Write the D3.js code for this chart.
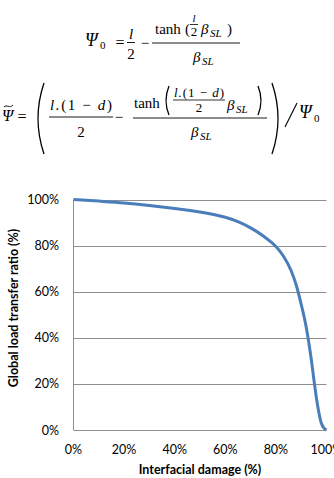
<!DOCTYPE html>
<html lang="en">
	<head>
		<meta charset="UTF-8" />
		<title>Global load transfer ratio</title>
		<style>
			body { margin: 0; background: #fff; }
			svg text { fill: #000; }
			.math { font-family: 'Liberation Serif', serif; font-style: italic; }
			.rm { font-family: 'Liberation Serif', serif; font-style: normal; }
			.lbl { font-family: Lato, 'Open Sans', sans-serif; }
		</style>
	</head>
	<body>
		<div id="chart"></div>
		<script src="https://cdnjs.cloudflare.com/ajax/libs/d3/7.8.5/d3.min.js"></script>
		<script>
			// interfacial damage (%) and load transfer ratio (%)
			var damage = [0, 10, 20, 30, 40, 50, 60, 65, 70, 75, 78, 80, 83, 86, 88, 90, 92, 94, 95, 96, 97, 98, 99, 100];
			var ratio = [100, 99.3, 98.5, 97.4, 96.1, 94.6, 92.3, 90.4, 87.7, 84.2, 81.6, 79.6, 75.4, 69.2, 63, 54.5, 44.5, 30.5, 22, 14, 7.5, 2.8, 0.8, 0];
			var xTicks = [0, 20, 40, 60, 80, 100];
			var yTicks = [0, 20, 40, 60, 80, 100];

			var width = 334;
			var height = 478;

			var svg = d3.select('#chart').append('svg')
				.attr('width', width)
				.attr('height', height);

			var x = d3.scaleLinear().domain([0, 100]).range([73.5, 326.5]);
			var y = d3.scaleLinear().domain([0, 100]).range([430, 199.5]);

			// gridlines
			svg.append('g').selectAll('line')
				.data(yTicks.filter(function (d) { return d > 0; }))
				.enter().append('line')
				.attr('x1', x(0)).attr('x2', x(100))
				.attr('y1', function (d) { return Math.round(y(d)) + 0.5; })
				.attr('y2', function (d) { return Math.round(y(d)) + 0.5; })
				.attr('stroke', '#8f8f8f');

			// axis lines
			svg.append('line')
				.attr('x1', x(0)).attr('x2', x(0))
				.attr('y1', y(100)).attr('y2', y(0))
				.attr('stroke', '#8f8f8f');
			svg.append('line')
				.attr('x1', x(0)).attr('x2', x(100))
				.attr('y1', Math.round(y(0)) + 0.5).attr('y2', Math.round(y(0)) + 0.5)
				.attr('stroke', '#8f8f8f');

			// tick labels
			svg.append('g').selectAll('text')
				.data(yTicks)
				.enter().append('text')
				.attr('class', 'lbl')
				.attr('x', 59)
				.attr('y', function (d) { return y(d); })
				.attr('dy', '0.36em')
				.attr('text-anchor', 'end')
				.style('font-size', '12.5px')
				.text(function (d) { return d + '%'; });
			svg.append('g').selectAll('text')
				.data(xTicks)
				.enter().append('text')
				.attr('class', 'lbl')
				.attr('x', function (d) { return x(d); })
				.attr('y', 454)
				.attr('text-anchor', 'middle')
				.style('font-size', '12.5px')
				.text(function (d) { return d + '%'; });

			// axis titles
			svg.append('text')
				.attr('class', 'lbl')
				.attr('x', 200).attr('y', 474)
				.attr('text-anchor', 'middle')
				.style('font-size', '12.5px').style('font-weight', 'bold')
				.text('Interfacial damage (%)');
			svg.append('text')
				.attr('class', 'lbl')
				.attr('transform', 'translate(18,308) rotate(-90)')
				.attr('text-anchor', 'middle')
				.style('font-size', '12.5px').style('font-weight', 'bold')
				.text('Global load transfer ratio (%)');

			// curve
			var line = d3.line()
				.x(function (d) { return x(d[0]); })
				.y(function (d) { return y(d[1]); })
				.curve(d3.curveMonotoneX);
			svg.append('path')
				.datum(d3.zip(damage, ratio))
				.attr('d', line)
				.attr('fill', 'none')
				.attr('stroke', '#4a7ebb')
				.attr('stroke-width', 3)
				.attr('stroke-linejoin', 'round');

			// formulas
			var f = svg.append('g');
			function txt(s, px, py, size, cls, anchor) {
				return f.append('text')
					.attr('class', cls || 'math')
					.attr('x', px).attr('y', py)
					.attr('text-anchor', anchor || 'start')
					.style('font-size', size + 'px')
					.text(s);
			}
			// mixed italic / upright run fitted between x1 and x2
			function run(parts, x1, x2, py, size) {
				var t = f.append('text')
					.attr('class', 'rm')
					.attr('x', x1).attr('y', py)
					.attr('textLength', x2 - x1)
					.attr('lengthAdjust', 'spacing')
					.style('font-size', size + 'px');
				parts.forEach(function (p) {
					t.append('tspan')
						.style('font-style', p[1] ? 'italic' : 'normal')
						.text(p[0]);
				});
				return t;
			}
			function bar(x1, x2, yy, w) {
				f.append('line')
					.attr('x1', x1).attr('x2', x2)
					.attr('y1', yy).attr('y2', yy)
					.attr('stroke', '#000')
					.attr('stroke-width', w || 0.9);
			}
			function paren(x0, y0, y1, w, left) {
				var p = d3.path();
				var dx = left ? -w : w;
				p.moveTo(x0, y0);
				p.quadraticCurveTo(x0 + dx * 2, (y0 + y1) / 2, x0, y1);
				f.append('path').attr('d', p.toString())
					.attr('fill', 'none').attr('stroke', '#000').attr('stroke-width', 1.3);
			}
			function tilde(x1, x2, yy) {
				var p = d3.path();
				var w = x2 - x1;
				p.moveTo(x1, yy + 1);
				p.bezierCurveTo(x1 + w * 0.3, yy - 2, x1 + w * 0.6, yy + 3, x2, yy - 1);
				f.append('path').attr('d', p.toString())
					.attr('fill', 'none').attr('stroke', '#000').attr('stroke-width', 0.9);
			}

			// Psi_0 = l/2 - tanh(l/2 beta_SL)/beta_SL
			txt('\u03A8', 85, 46, 18);
			txt('0', 100, 49, 11, 'rm');
			txt('=', 120, 48, 16, 'rm', 'middle');
			txt('l', 131, 39, 15, 'math', 'middle');
			bar(127, 135, 42.5);
			txt('2', 131, 59, 15, 'rm', 'middle');
			txt('\u2212', 145, 48, 15, 'rm', 'middle');
			txt('tanh', 155, 34, 15, 'rm');
			txt('(', 185, 34, 15, 'rm');
			txt('l', 194, 22, 11, 'math', 'middle');
			bar(190, 198, 24.5, 0.8);
			txt('2', 194, 36, 13, 'rm', 'middle');
			txt('\u03B2', 201, 34, 15);
			txt('SL', 210, 37, 11);
			txt(')', 227, 34, 15, 'rm');
			bar(152, 240, 43);
			txt('\u03B2', 193, 62, 15);
			txt('SL', 202, 65, 11);

			// Psi~ = ( l.(1-d)/2 - tanh(l.(1-d)/2 beta_SL)/beta_SL ) / Psi_0
			txt('\u03A8', 2, 121, 16);
			tilde(4, 13, 106);
			txt('=', 22, 122, 16, 'rm', 'middle');
			paren(44, 83, 154, 6, true);
			run([['l.', true], ['(1 \u2212 ', false], ['d', true], [')', false]], 50, 112, 110, 15);
			bar(49, 113, 117);
			txt('2', 81, 137, 15, 'rm', 'middle');
			txt('\u2212', 119, 122, 15, 'rm', 'middle');
			txt('tanh', 134, 108, 15, 'rm');
			paren(169, 86, 115, 3, true);
			run([['l.', true], ['(1 \u2212 ', false], ['d', true], [')', false]], 174, 224, 97, 13);
			bar(173, 225, 100, 0.8);
			txt('2', 199, 112, 13, 'rm', 'middle');
			txt('\u03B2', 227, 110, 15);
			txt('SL', 236, 113, 11);
			paren(258, 86, 115, 3, false);
			bar(133, 267, 118);
			txt('\u03B2', 191, 137, 15);
			txt('SL', 200, 140, 11);
			paren(272, 83, 154, 6, false);
			f.append('line')
				.attr('x1', 285).attr('y1', 127)
				.attr('x2', 297).attr('y2', 103)
				.attr('stroke', '#000').attr('stroke-width', 1.1);
			txt('\u03A8', 299, 118, 18);
			txt('0', 314, 122, 11, 'rm');
		</script>
	</body>
</html>
